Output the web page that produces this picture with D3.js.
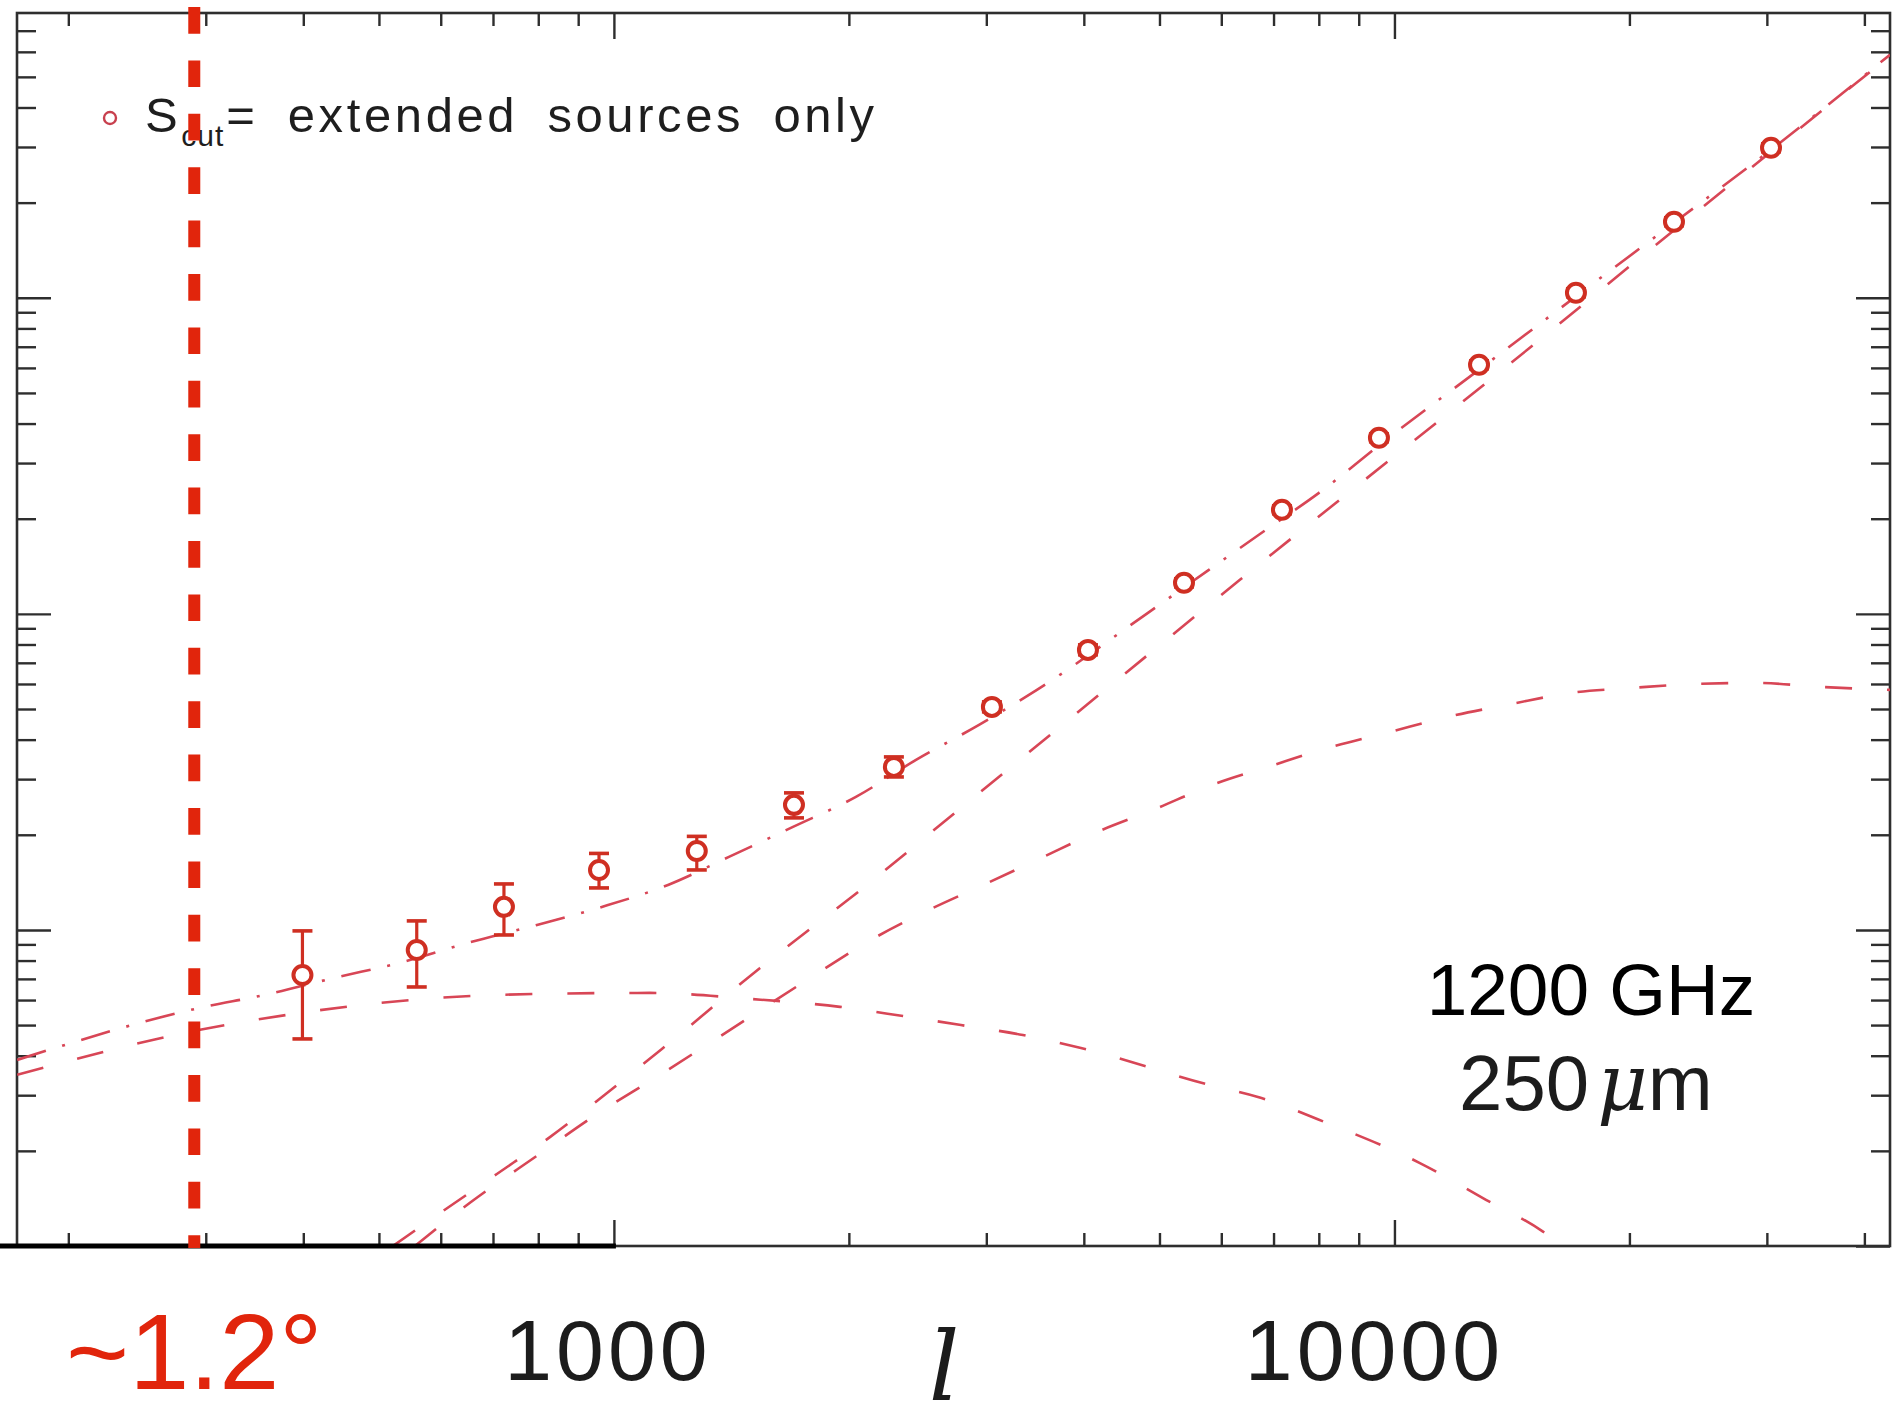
<!DOCTYPE html>
<html>
<head>
<meta charset="utf-8">
<script src="https://cdn.jsdelivr.net/npm/d3@7"></script>
<style>
  html, body { margin: 0; padding: 0; background: #fff; }
  svg { display: block; }
</style>
</head>
<body>
<svg id="chart" width="1894" height="1422"></svg>
<script>
// Binned CIB power spectrum, 1200 GHz / 250 micron, extended-source mask
const ellBins  = [399, 559, 723, 957, 1277, 1701, 2284, 3050, 4049, 5375, 7176, 9553, 12834, 17082, 22810, 30370];
const power    = [720, 864, 1183, 1548, 1778, 2487, 3280, 5078, 7692, 12540, 21340, 36060, 61380, 103700, 174000, 298300];
const errLow   = [452, 660, 964, 1358, 1548, 2262, 3048, 4896, 7419, 12170, 20730, 35030, 59620, 100700, 169000, 289700];
const errHigh  = [993, 1068, 1398, 1746, 1977, 2714, 3527, 5267, 7979, 12910, 21970, 37110, 63180, 106800, 179100, 307100];

// Model components (total, two-halo, one-halo, shot noise)
const totalEll = [172, 295, 357, 438, 537, 650, 797, 965, 1173, 1404, 1696, 2042, 2438, 2936, 3483, 4833, 5784, 6845, 8004, 9868, 12830, 18230, 23080, 30370, 43140];
const totalVal = [388, 567, 623, 705, 792, 910, 1037, 1182, 1388, 1702, 2118, 2636, 3451, 4454, 5747, 10074, 13780, 18440, 24150, 36320, 59190, 114000, 176500, 294100, 587500];

const twoHaloEll = [172, 295, 396, 548, 788, 1112, 1494, 1948, 2346, 2784, 3342, 3966, 5801, 6685, 8267, 10780, 13100, 15500, 16390];
const twoHaloVal = [348, 483, 546, 600, 627, 632, 605, 571, 534, 500, 465, 423, 323, 296, 243, 183, 140, 111, 100];

const oneHaloEll = [556, 654, 797, 968, 1135, 1327, 1826, 2135, 2533, 2936, 3483, 4133, 4904, 5889, 6947, 8217, 9868, 11710, 14140, 16830, 20210, 24340, 29140, 35090, 43140];
const oneHaloVal = [100, 137, 193, 269, 343, 439, 731, 930, 1157, 1368, 1665, 2028, 2397, 2897, 3304, 3766, 4233, 4722, 5192, 5623, 5832, 6004, 6047, 5875, 5747];

const shotEll = [521, 604, 708, 828, 1009, 1152, 1539, 2078, 2784, 3661, 4833, 6339, 8667, 11400, 15180, 21250, 30370, 43140];
const shotVal = [100, 129, 169, 221, 323, 420, 758, 1348, 2433, 4233, 7419, 12810, 23800, 40810, 72040, 141900, 289700, 583200];

const xLabels = [1000, 10000];
const cutEll = 290;           // multipole of the ~1.2 degree scale
const cutLabel = "~1.2°";
const legendLabel = ["S", "cut", "= extended sources only"];
const bandLabels = ["1200 GHz", "250", "μ", "m"];

const sans = '"Liberation Sans", Arial, Helvetica, sans-serif';
const serif = '"DejaVu Serif", "Liberation Serif", serif';

const svg = d3.select("#chart");
const W = 1894, H = 1422;
const plot = { left: 17, right: 1890, top: 13, bottom: 1246 };

svg.append("rect").attr("width", W).attr("height", H).attr("fill", "#fff");

const x = d3.scaleLog().domain([171.9, 43140]).range([plot.left, plot.right]);
const y = d3.scaleLog().domain([100, 796200]).range([plot.bottom, plot.top]);

const frameColor = "#2e2e2e";
const dataColor = "#cf2f22";
const modelColor = "#d84656";
const annColor = "#e1250c";

// log tick positions
function logTicks(domain) {
  const out = [];
  const lo = Math.floor(Math.log10(domain[0])), hi = Math.ceil(Math.log10(domain[1]));
  for (let e = lo; e <= hi; e++) {
    for (let m = 1; m <= 9; m++) {
      const v = m * Math.pow(10, e);
      if (v >= domain[0] * 0.999 && v <= domain[1] * 1.001) out.push(v);
    }
  }
  return out;
}
const isDecade = v => Math.abs(Math.log10(v) - Math.round(Math.log10(v))) < 1e-9;
const xAll = logTicks(x.domain());
const xMajor = xAll.filter(isDecade);
const xMinor = xAll.filter(v => !isDecade(v));
const yAll = logTicks(y.domain());
const yMajor = yAll.filter(isDecade);
const yMinor = yAll.filter(v => !isDecade(v));

function styleAxis(g) {
  g.select(".domain").remove();
  g.selectAll(".tick line").attr("stroke", frameColor).attr("stroke-width", 2.4);
  g.selectAll(".tick text").remove();
}

// bottom & top axes
[[d3.axisBottom, plot.bottom], [d3.axisTop, plot.top]].forEach(([ax, pos]) => {
  svg.append("g").attr("transform", `translate(0,${pos})`)
    .call(ax(x).tickValues(xMinor).tickSize(-13).tickFormat("")).call(styleAxis);
  svg.append("g").attr("transform", `translate(0,${pos})`)
    .call(ax(x).tickValues(xMajor).tickSize(-26).tickFormat("")).call(styleAxis);
});
// left & right axes
[[d3.axisLeft, plot.left], [d3.axisRight, plot.right]].forEach(([ax, pos]) => {
  svg.append("g").attr("transform", `translate(${pos},0)`)
    .call(ax(y).tickValues(yMinor).tickSize(-19).tickFormat("")).call(styleAxis);
  svg.append("g").attr("transform", `translate(${pos},0)`)
    .call(ax(y).tickValues(yMajor).tickSize(-34).tickFormat("")).call(styleAxis);
});

// frame
svg.append("rect")
  .attr("x", plot.left).attr("y", plot.top)
  .attr("width", plot.right - plot.left).attr("height", plot.bottom - plot.top)
  .attr("fill", "none").attr("stroke", frameColor).attr("stroke-width", 2.6);

// clip for model curves
svg.append("defs").append("clipPath").attr("id", "plotClip")
  .append("rect").attr("x", plot.left).attr("y", plot.top)
  .attr("width", plot.right - plot.left).attr("height", plot.bottom - plot.top);

const line = d3.line().x(d => x(d[0])).y(d => y(d[1])).curve(d3.curveMonotoneX);
const curves = svg.append("g").attr("clip-path", "url(#plotClip)");

function drawCurve(ells, vals, dash) {
  curves.append("path")
    .datum(d3.zip(ells, vals))
    .attr("d", line)
    .attr("fill", "none")
    .attr("stroke", modelColor)
    .attr("stroke-width", 2.6)
    .attr("stroke-dasharray", dash);
}
drawCurve(twoHaloEll, twoHaloVal, "27 35");
drawCurve(oneHaloEll, oneHaloVal, "27 35");
drawCurve(shotEll, shotVal, "27 35");
drawCurve(totalEll, totalVal, "30 17 3 17");

// data points with error bars
const pts = svg.append("g");
ellBins.forEach((l, i) => {
  const cx = x(l);
  pts.append("line").attr("x1", cx).attr("x2", cx)
    .attr("y1", y(errLow[i])).attr("y2", y(errHigh[i]))
    .attr("stroke", dataColor).attr("stroke-width", 3.2);
  [errLow[i], errHigh[i]].forEach(v => {
    pts.append("line").attr("x1", cx - 10).attr("x2", cx + 10)
      .attr("y1", y(v)).attr("y2", y(v))
      .attr("stroke", dataColor).attr("stroke-width", 3.6);
  });
  pts.append("circle").attr("cx", cx).attr("cy", y(power[i])).attr("r", 9)
    .attr("fill", "#fff").attr("stroke", dataColor).attr("stroke-width", 4);
});

// legend
svg.append("circle").attr("cx", 110).attr("cy", 118).attr("r", 6)
  .attr("fill", "none").attr("stroke", "#c8404e").attr("stroke-width", 2.4);
const leg = svg.append("text").attr("x", 145).attr("y", 132)
  .style("font-family", sans).attr("font-size", 49).attr("fill", "#1e1e1e")
  .attr("letter-spacing", 3.6).attr("word-spacing", 12);
leg.append("tspan").text(legendLabel[0]);
leg.append("tspan").attr("dy", 14).attr("font-size", 30).attr("letter-spacing", 1).text(legendLabel[1]);
leg.append("tspan").attr("dy", -14).attr("dx", 2).attr("font-size", 49).text(legendLabel[2]);

// x tick labels and axis title
const labelNudge = [-6, -20];
xLabels.forEach((v, i) => {
  svg.append("text").attr("x", x(v) + labelNudge[i]).attr("y", 1380)
    .style("font-family", sans)
    .attr("text-anchor", "middle").attr("font-size", 86).attr("letter-spacing", 4)
    .attr("fill", "#1c1c1c").text(d3.format("d")(v));
});
svg.append("text").attr("x", 944).attr("y", 1400)
  .style("font-family", serif)
  .attr("text-anchor", "middle").attr("font-size", 96).attr("font-style", "italic")
  .attr("fill", "#1c1c1c").text("l");

// band labels
svg.append("text").attr("x", 1591).attr("y", 1015).attr("text-anchor", "middle")
  .style("font-family", sans).attr("font-size", 73).attr("fill", "#000").text(bandLabels[0]);
const band = svg.append("text").attr("x", 1459).attr("y", 1110)
  .style("font-family", sans).attr("font-size", 78).attr("fill", "#1c1c1c");
band.append("tspan").text(bandLabels[1]);
band.append("tspan").attr("dx", 8).attr("font-style", "italic")
  .style("font-family", serif).text(bandLabels[2]);
band.append("tspan").style("font-family", sans).text(bandLabels[3]);

// annotation: angular scale marker
svg.append("line").attr("x1", plot.left - 17).attr("x2", x(1000) + 2)
  .attr("y1", plot.bottom).attr("y2", plot.bottom)
  .attr("stroke", "#000").attr("stroke-width", 5);
svg.append("line").attr("x1", x(cutEll)).attr("x2", x(cutEll))
  .attr("y1", 7).attr("y2", plot.bottom + 2)
  .attr("stroke", annColor).attr("stroke-width", 12)
  .attr("stroke-dasharray", "26.7 26.7");
svg.append("text").attr("x", x(cutEll)).attr("y", 1389)
  .style("font-family", sans)
  .attr("text-anchor", "middle").attr("font-size", 108).attr("fill", annColor)
  .text(cutLabel);
</script>
</body>
</html>
